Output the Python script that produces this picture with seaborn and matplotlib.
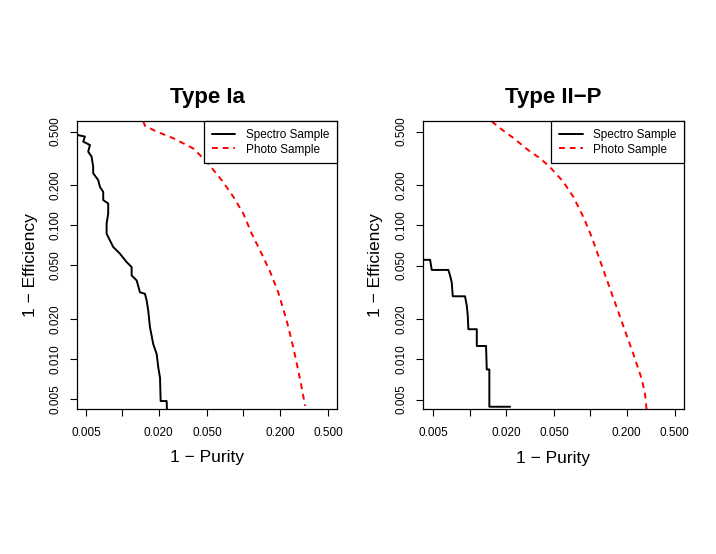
import matplotlib
matplotlib.use("Agg")
import matplotlib.pyplot as plt
import seaborn as sns
import pandas as pd

# ---------------- data ----------------
titles = ["Type Ia", "Type II\u2212P"]
series_names = ["Spectro Sample", "Photo Sample"]

ia_spec_fp = [0.00424, 0.00491, 0.00475, 0.0054, 0.00522, 0.00557, 0.00574, 0.00574,
              0.00632, 0.00653, 0.00695, 0.00695, 0.00764, 0.00764, 0.00741, 0.00741,
              0.00789, 0.00841, 0.00955, 0.01084, 0.01193, 0.01193, 0.01313, 0.01397,
              0.01537, 0.01588, 0.01636, 0.01690, 0.01799, 0.01920, 0.01981, 0.02046,
              0.02072, 0.02322, 0.02340]
ia_spec_fn = [0.472, 0.459, 0.421, 0.397, 0.354, 0.325, 0.273, 0.244, 0.217, 0.193,
              0.177, 0.154, 0.145, 0.122, 0.1027, 0.0864, 0.0770, 0.0686, 0.0612,
              0.0530, 0.0486, 0.0421, 0.0386, 0.0315, 0.0307, 0.0273, 0.0230, 0.0173,
              0.01293, 0.01089, 0.00864, 0.00726, 0.00485, 0.00485, 0.0040]

ia_photo_fp = [0.01488, 0.01537, 0.01920, 0.02633, 0.03853, 0.0500, 0.0661, 0.0820,
               0.0998, 0.1170, 0.1371, 0.1658, 0.1942, 0.2278, 0.2584, 0.2841, 0.3048,
               0.3228]
ia_photo_fn = [0.598, 0.552, 0.500, 0.446, 0.374, 0.296, 0.217, 0.1646, 0.1221, 0.0865,
               0.0648, 0.0451, 0.03135, 0.01934, 0.01219, 0.00815, 0.00597, 0.00446]

iip_spec_fp = [0.00413, 0.00470, 0.00485, 0.00666, 0.00688, 0.00710, 0.00724, 0.00915,
               0.00946, 0.00964, 0.00975, 0.01145, 0.01145, 0.01366, 0.01385, 0.01455,
               0.01455, 0.0216]
iip_spec_fn = [0.0552, 0.0552, 0.0464, 0.0464, 0.0421, 0.0375, 0.0295, 0.0295, 0.0251,
               0.0211, 0.01675, 0.01675, 0.01256, 0.01256, 0.00839, 0.00839, 0.00442,
               0.00442]

iip_photo_fp = [0.01523, 0.01785, 0.0230, 0.03045, 0.0383, 0.0463, 0.0597, 0.0723,
                0.0875, 0.1027, 0.1202, 0.1409, 0.1654, 0.1938, 0.2270, 0.2665, 0.2838,
                0.2920]
iip_photo_fn = [0.5965, 0.530, 0.4484, 0.3645, 0.3159, 0.2718, 0.2109, 0.1627, 0.1151,
                0.0815, 0.0545, 0.0364, 0.02433, 0.01627, 0.01094, 0.0071, 0.00548,
                0.00423]

x_ticks = [0.005, 0.01, 0.02, 0.05, 0.1, 0.2, 0.5]
x_tick_labels = ["0.005", "", "0.020", "0.050", "", "0.200", "0.500"]
y_ticks = [0.005, 0.01, 0.02, 0.05, 0.1, 0.2, 0.5]
y_tick_labels = ["0.005", "0.010", "0.020", "0.050", "0.100", "0.200", "0.500"]

# ---------------- style ----------------
sns.set_theme(style="ticks")
plt.rcParams["font.family"] = ["Liberation Sans", "DejaVu Sans"]
plt.rcParams["text.color"] = "black"
plt.rcParams["axes.labelcolor"] = "black"

fig = plt.figure(figsize=(7.16, 5.54), dpi=100)
ax_pos = [[77 / 716, 1 - 409 / 554, 260 / 716, 288 / 554],
          [422.7 / 716, 1 - 409.3 / 554, 261.6 / 716, 288.3 / 554]]
xlims = [(0.00422, 0.593), (0.00408, 0.600)]
ylim = (0.00423, 0.600)

panels = [
    (ia_spec_fp, ia_spec_fn, ia_photo_fp, ia_photo_fn),
    (iip_spec_fp, iip_spec_fn, iip_photo_fp, iip_photo_fn),
]

for i, (sfp, sfn, pfp, pfn) in enumerate(panels):
    ax = fig.add_axes(ax_pos[i])
    spec = pd.DataFrame({"fp": sfp, "fn": sfn})
    phot = pd.DataFrame({"fp": pfp, "fn": pfn})
    sns.lineplot(data=spec, x="fp", y="fn", sort=False, estimator=None, ax=ax,
                 color="black", linewidth=1.4, label=series_names[0])
    sns.lineplot(data=phot, x="fp", y="fn", sort=False, estimator=None, ax=ax,
                 color="#ff0000", linewidth=1.4, linestyle=(0, (3.0, 2.5)),
                 label=series_names[1])
    ax.set_xscale("log")
    ax.set_yscale("log")
    ax.set_xlim(*xlims[i])
    ax.set_ylim(*ylim)
    ax.set_xticks(x_ticks)
    ax.set_xticklabels(x_tick_labels)
    ax.set_yticks(y_ticks)
    ax.set_yticklabels(y_tick_labels, rotation=90, va="center")
    ax.minorticks_off()
    ax.tick_params(axis="both", direction="out", length=5, width=0.8,
                   color="black", labelsize=8.5, labelcolor="black")
    ax.tick_params(axis="x", pad=8)
    ax.tick_params(axis="y", pad=6)
    for sp in ax.spines.values():
        sp.set_visible(True)
        sp.set_color("black")
        sp.set_linewidth(0.9)
    ax.set_title(titles[i], fontsize=16, fontweight="bold", pad=13, color="black")
    ax.set_xlabel("1 \u2212 Purity", fontsize=12.5, color="black")
    ax.set_ylabel("1 \u2212 Efficiency", fontsize=12.5, color="black")
    ax.xaxis.set_label_coords(0.5, -0.17)
    ax.xaxis.label.set_verticalalignment("center")
    ax.yaxis.set_label_coords(-0.18, 0.5)
    ax.yaxis.label.set_verticalalignment("center")
    ax.grid(False)
    leg = ax.legend(loc="upper right", borderaxespad=0, fontsize=8.5,
                    frameon=True, fancybox=False, framealpha=1,
                    edgecolor="black", handlelength=2.0, handletextpad=0.9,
                    borderpad=0.65, labelspacing=0.25)
    leg.get_frame().set_linewidth(0.9)
    for t in leg.get_texts():
        t.set_color("black")

fig.savefig("out.png", dpi=100, facecolor="white")
